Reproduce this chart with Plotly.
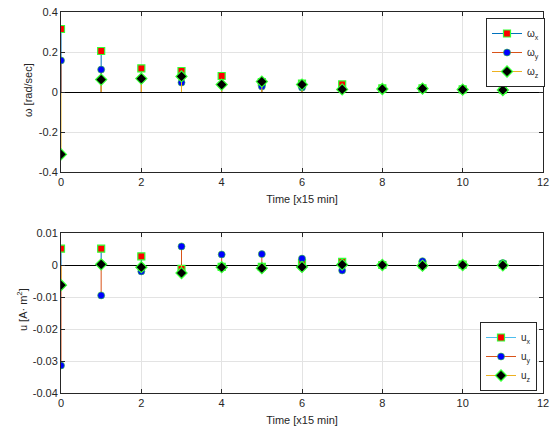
import plotly.graph_objects as go

t = list(range(12))
w_x = [0.315, 0.205, 0.118, 0.105, 0.080, 0.050, 0.042, 0.038, 0.018, 0.018, 0.013, 0.012]
w_y = [0.158, 0.112, 0.065, 0.047, 0.037, 0.028, 0.022, 0.015, 0.015, 0.015, 0.010, 0.010]
w_z = [-0.312, 0.062, 0.067, 0.078, 0.037, 0.052, 0.037, 0.013, 0.015, 0.017, 0.012, 0.010]

u_x = [0.0051, 0.0051, 0.0027, -0.0012, -0.0006, -0.0006, 0.0006, 0.0010, 0.0000, 0.0001, 0.0001, 0.0001]
u_y = [-0.0314, -0.0095, -0.0020, 0.0058, 0.0033, 0.0034, 0.0020, -0.0017, 0.0000, 0.0012, 0.0001, 0.0006]
u_z = [-0.0063, 0.0002, -0.0007, -0.0025, -0.0007, -0.0010, -0.0006, 0.0001, 0.0000, -0.0002, 0.0000, -0.0001]

w_names = ["ω<sub>x</sub>", "ω<sub>y</sub>", "ω<sub>z</sub>"]
u_names = ["u<sub>x</sub>", "u<sub>y</sub>", "u<sub>z</sub>"]
top_ticks = [-0.4, -0.2, 0, 0.2, 0.4]
top_labels = ["-0.4", "-0.2", "0", "0.2", "0.4"]
bot_ticks = [-0.04, -0.03, -0.02, -0.01, 0, 0.01]
bot_labels = ["-0.04", "-0.03", "-0.02", "-0.01", "0", "0.01"]
x_ticks = [0, 2, 4, 6, 8, 10, 12]
x_title = "Time [x15 min]"
w_title = "ω [rad/sec]"
u_title = "u [A· m<sup>2</sup>]"

stem_colors = ["#0072BD", "#D95319", "#EDB120"]
stem_colors_legend_u = ["#4DBEEE", "#D95319", "#EDB120"]
marker_specs = [
    dict(symbol="square", color="red", size=7, line=dict(color="#33ff33", width=1.2)),
    dict(symbol="circle", color="blue", size=7, line=dict(color="#33cc33", width=0.6)),
    dict(symbol="diamond", color="black", size=8.5, line=dict(color="#33ff33", width=1.2)),
]

fig = go.Figure()


def stems(xs, ys):
    sx, sy = [], []
    for a, b in zip(xs, ys):
        sx += [a, a, None]
        sy += [0, b, None]
    return sx, sy


def add_group(series, names, xref, yref, legend, lcolors):
    for i, ys in enumerate(series):
        sx, sy = stems(t, ys)
        fig.add_trace(go.Scatter(x=sx, y=sy, mode="lines", xaxis=xref, yaxis=yref,
                                 line=dict(color=stem_colors[i], width=1),
                                 showlegend=False, hoverinfo="skip"))
        fig.add_trace(go.Scatter(x=t, y=ys, mode="markers", xaxis=xref, yaxis=yref,
                                 marker=marker_specs[i], showlegend=False))
    for i, nm in enumerate(names):
        fig.add_trace(go.Scatter(x=[None], y=[None], mode="lines+markers", xaxis=xref, yaxis=yref,
                                 name=nm, line=dict(color=lcolors[i], width=1),
                                 marker=marker_specs[i], legend=legend))


add_group([w_x, w_y, w_z], w_names, "x", "y", "legend", stem_colors)
add_group([u_x, u_y, u_z], u_names, "x2", "y2", "legend2", stem_colors_legend_u)

W, H = 552, 431
ML, MR, MT, MB = 61, 8, 12, 38
PH = H - MT - MB
PW = W - ML - MR


def ydom(top_px, bot_px):
    return [1 - (bot_px - MT) / PH, 1 - (top_px - MT) / PH]


def px_x(px):
    return (px - ML) / PW


def px_y(px):
    return 1 - (px - MT) / PH


font = dict(family="Liberation Sans, Arial, sans-serif", size=11, color="#262626")
axcommon = dict(showline=True, linecolor="#262626", linewidth=1, mirror="ticks",
                ticks="inside", ticklen=4, tickcolor="#262626", automargin=False,
                showgrid=True, gridcolor="#e3e3e3", gridwidth=1,
                tickfont=dict(size=11, color="#262626"))

fig.update_layout(
    width=W, height=H,
    margin=dict(l=ML, r=MR, t=MT, b=MB),
    paper_bgcolor="white", plot_bgcolor="white",
    font=font,
    xaxis=dict(domain=[0, 1], anchor="y", range=[0, 12], tickvals=x_ticks, zeroline=False,
               title=dict(text=x_title, font=dict(size=11), standoff=8), **axcommon),
    yaxis=dict(domain=ydom(12, 172), anchor="x", range=[-0.4, 0.4],
               tickvals=top_ticks, ticktext=top_labels, zeroline=True, zerolinecolor="#000000",
               zerolinewidth=1, **axcommon),
    xaxis2=dict(domain=[0, 1], anchor="y2", range=[0, 12], tickvals=x_ticks, zeroline=False,
                title=dict(text=x_title, font=dict(size=11), standoff=8), **axcommon),
    yaxis2=dict(domain=ydom(233, 393), anchor="x2", range=[-0.04, 0.01],
                tickvals=bot_ticks, ticktext=bot_labels, zeroline=True, zerolinecolor="#000000",
                zerolinewidth=1, **axcommon),
    legend=dict(x=px_x(545), y=px_y(18), xanchor="right", yanchor="top",
                bgcolor="white", bordercolor="#262626", borderwidth=1,
                font=dict(size=10, color="#262626"), itemwidth=30, tracegroupgap=0),
    legend2=dict(x=px_x(537), y=px_y(322), xanchor="right", yanchor="top",
                 bgcolor="white", bordercolor="#262626", borderwidth=1,
                 font=dict(size=10, color="#262626"), itemwidth=30, tracegroupgap=0),
    annotations=[
        dict(text=w_title, xref="paper", yref="paper", x=px_x(28), y=px_y(90),
             textangle=-90, showarrow=False, font=dict(size=11, color="#262626"),
             xanchor="center", yanchor="middle"),
        dict(text=u_title, xref="paper", yref="paper", x=px_x(22), y=px_y(310),
             textangle=-90, showarrow=False, font=dict(size=11, color="#262626"),
             xanchor="center", yanchor="middle"),
    ],
)

fig.write_html("out.html", config={"displayModeBar": False},
               post_script="document.body.style.margin='0';document.body.style.overflow='hidden';")
